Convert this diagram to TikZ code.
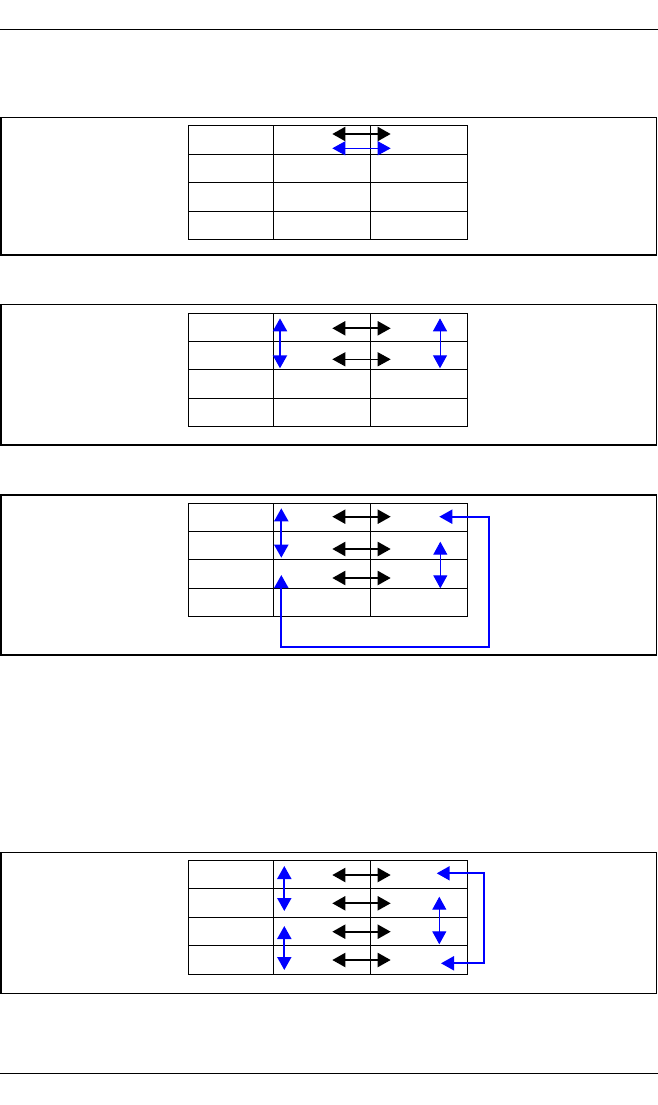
\documentclass[tikz,border=0pt]{standalone}
\usepackage{tikz}
\usetikzlibrary{arrows.meta}

\begin{document}
\begin{tikzpicture}
[
  x=1pt, y=-1pt,
  >={Triangle[length=13pt,width=14pt]},
  cell/.style={rectangle,draw,line width=1pt,inner sep=0pt,minimum height=28.4pt,anchor=north west},
  panel/.style={draw,line width=1.3pt},
  rule/.style={draw,line width=1pt},
  pair/.style={<->,line width=2pt},
  pairthin/.style={<->,line width=1pt},
  move/.style={<->,blue,line width=2pt},
  movethin/.style={<->,blue,line width=1pt},
]
\useasboundingbox (0,0) rectangle (658,1105);

% page rules
\coordinate (topL) at (0,30);
\coordinate (topR) at (658,30);
\coordinate (botL) at (0,1073);
\coordinate (botR) at (658,1073);
\draw[rule] (topL) -- (topR);
\draw[rule] (botL) -- (botR);

% frames
\draw[panel] (1,117.3) rectangle (656.7,255);
\draw[panel] (1,304.7) rectangle (656.7,445);
\draw[panel] (1,495) rectangle (656.7,655);
\draw[panel] (1,852.7) rectangle (656.7,993.3);

% tables
\foreach \t/\ytop in {1/125.5,2/312.5,3/502.5,4/860}{
    \foreach \r in {0,...,3}{
        \node[cell,minimum width=85pt] (t\t-\r-a) at (187.5,{\ytop+\r*28.4}){};
        \node[cell,minimum width=97pt] (t\t-\r-b) at (272.5,{\ytop+\r*28.4}){};
        \node[cell,minimum width=97pt] (t\t-\r-c) at (369.5,{\ytop+\r*28.4}){};
    }
}

% table 1
\coordinate (s1a) at (332.3,134);   \coordinate (s1b) at (390.7,134);
\coordinate (m1a) at (332.3,148.3); \coordinate (m1b) at (390.7,148.3);
\draw[pair] (s1a) -- (s1b);
\draw[movethin] (m1a) -- (m1b);

% table 2
\coordinate (v2a) at (280,318.3);   \coordinate (v2b) at (280,368.3);
\coordinate (w2a) at (440,318.3);   \coordinate (w2b) at (440,368.3);
\coordinate (s2a) at (332.3,328.3); \coordinate (s2b) at (390.7,328.3);
\coordinate (u2a) at (332.3,359.3); \coordinate (u2b) at (390.7,359.3);
\draw[move] (v2a) -- (v2b);
\draw[movethin] (w2a) -- (w2b);
\draw[pair] (s2a) -- (s2b);
\draw[pairthin] (u2a) -- (u2b);

% table 3
\coordinate (v3a) at (281.3,508.3); \coordinate (v3b) at (281.3,557.7);
\coordinate (w3a) at (440.3,541.7); \coordinate (w3b) at (440.3,588.3);
\foreach \n/\y in {1/516.7,2/549,3/578}{
    \coordinate (s3\n a) at (332.3,\y);
    \coordinate (s3\n b) at (390.7,\y);
    \draw[pair] (s3\n a) -- (s3\n b);
}
\draw[move] (v3a) -- (v3b);
\draw[movethin] (w3a) -- (w3b);
\coordinate (l3a) at (439.3,516.7);
\coordinate (l3b) at (489.3,647.3);
\coordinate (l3c) at (281.3,575);
\draw[move] (l3a) -| (l3b) -| (l3c);

% table 4
\coordinate (v4a) at (284.3,866);   \coordinate (v4b) at (284.3,911);
\coordinate (v4c) at (284.3,926);   \coordinate (v4d) at (284.3,970);
\coordinate (w4a) at (439.3,896.7); \coordinate (w4b) at (439.3,944.3);
\foreach \n/\y in {1/875,2/903.3,3/931.7,4/960}{
    \coordinate (s4\n a) at (332.3,\y);
    \coordinate (s4\n b) at (390.7,\y);
    \draw[pair] (s4\n a) -- (s4\n b);
}
\draw[move] (v4a) -- (v4b);
\draw[move] (v4c) -- (v4d);
\draw[movethin] (w4a) -- (w4b);
\coordinate (l4a) at (436.7,873.3);
\coordinate (l4b) at (484,963.3);
\coordinate (l4c) at (441,963.3);
\draw[move] (l4a) -| (l4b) -- (l4c);
\end{tikzpicture}
\end{document}
